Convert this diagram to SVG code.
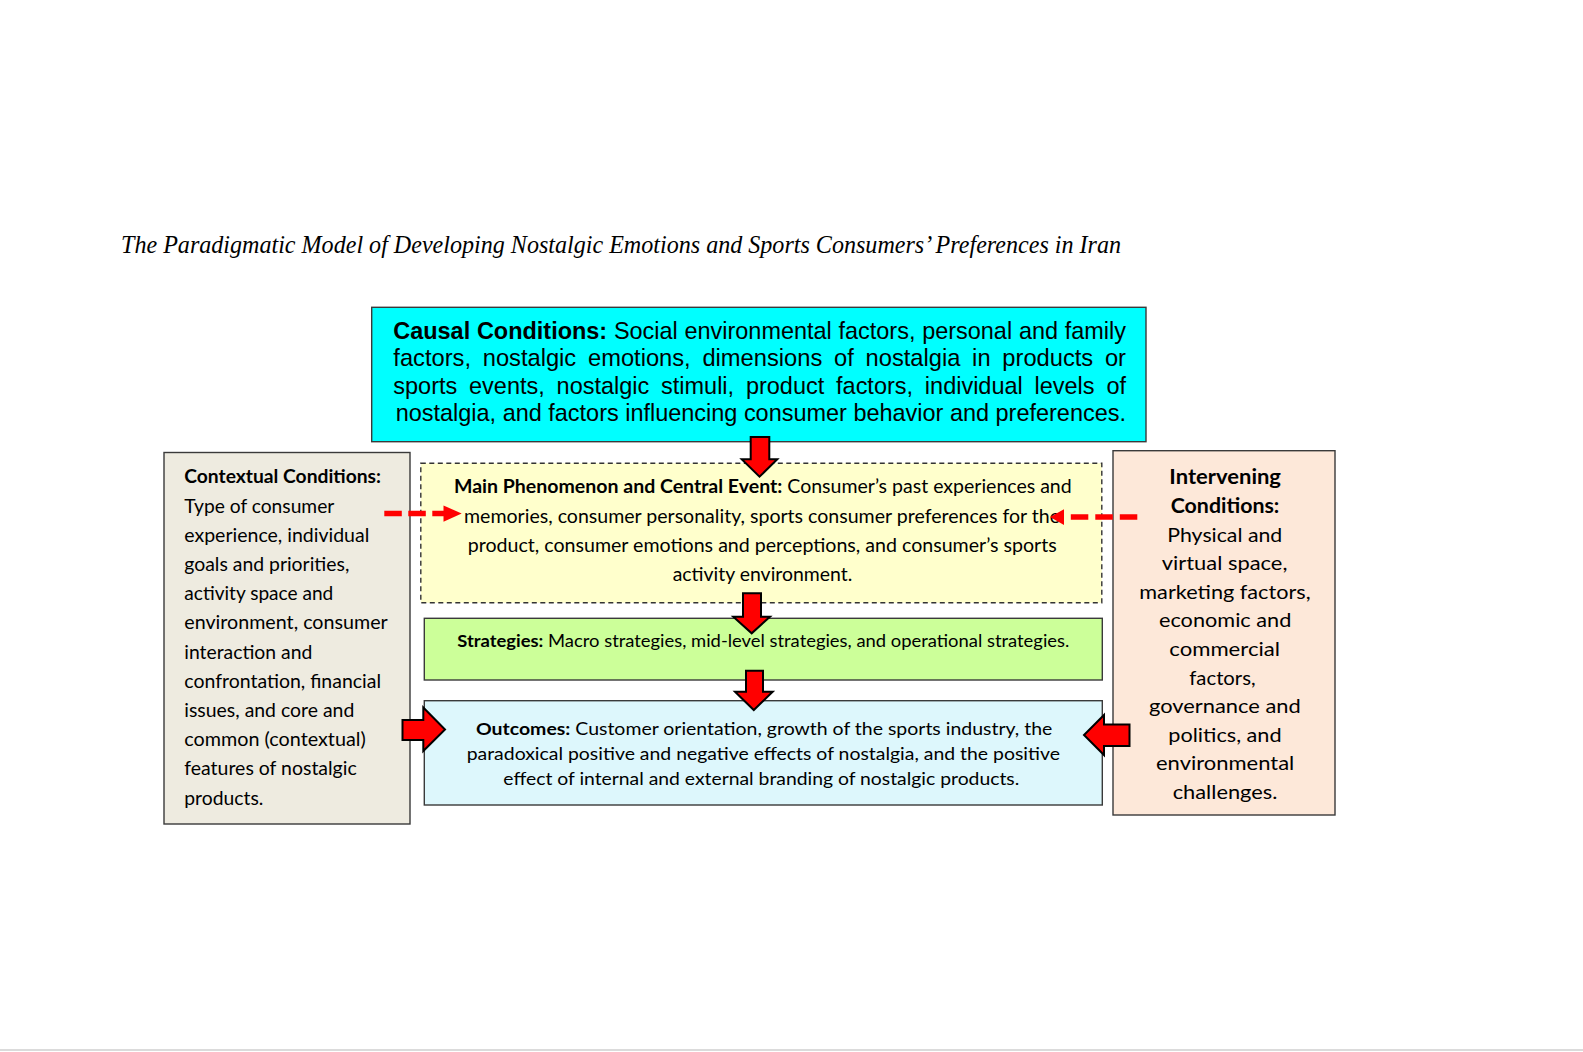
<svg xmlns="http://www.w3.org/2000/svg" width="1583" height="1052" viewBox="0 0 1583 1052">
<defs>
<style>
.box{stroke:#3a3a3a;stroke-width:1.4}
.ar{font-family:"Liberation Sans",Arial,sans-serif;font-size:24.2px;fill:#000}
.cal{font-family:Lato,"Open Sans",sans-serif;fill:#000}
.c19{font-size:19px}
.c195{font-size:19.5px}
.c20{font-size:20px}
.c17{font-size:16.8px}
.b{font-weight:bold}
.blk{fill:#ff0000;stroke:#000;stroke-width:2;stroke-linejoin:miter}
.dash{stroke:#ff0000;stroke-width:5.5;fill:none}
.head{fill:#ff0000}
</style>
</defs>
<rect x="0" y="0" width="1583" height="1052" fill="#ffffff"/>
<line x1="0" y1="1050" x2="1583" y2="1050" stroke="#cfcfcf" stroke-width="1.5"/>
<text id="title" x="121" y="253" textLength="1000" lengthAdjust="spacingAndGlyphs" font-family="'Liberation Serif','Times New Roman',serif" font-style="italic" font-size="25" fill="#000">The Paradigmatic Model of Developing Nostalgic Emotions and Sports Consumers’ Preferences in Iran</text>

<g id="causal">
<rect class="box" x="371.7" y="307.3" width="774.3" height="134.4" fill="#00ffff"/>
<text class="ar" x="393.3" y="339" textLength="732.7" lengthAdjust="spacingAndGlyphs" word-spacing="0.3"><tspan class="b">Causal Conditions:</tspan> Social environmental factors, personal and family</text>
<text class="ar" x="393.3" y="366" textLength="732.7" lengthAdjust="spacingAndGlyphs" word-spacing="5.3">factors, nostalgic emotions, dimensions of nostalgia in products or</text>
<text class="ar" x="393.3" y="393.5" textLength="732.7" lengthAdjust="spacingAndGlyphs" word-spacing="5.5">sports events, nostalgic stimuli, product factors, individual levels of</text>
<text class="ar" x="395.7" y="421" textLength="730.3" lengthAdjust="spacingAndGlyphs">nostalgia, and factors influencing consumer behavior and preferences.</text>
</g>

<g id="contextual">
<rect class="box" x="164" y="452.5" width="246" height="371.5" fill="#eeebe0"/>
<text class="cal c19 b" x="184.3" y="483.3" textLength="196.7" lengthAdjust="spacingAndGlyphs">Contextual Conditions:</text>
<text class="cal c19" x="184.3" y="512.5" textLength="150" lengthAdjust="spacingAndGlyphs">Type of consumer</text>
<text class="cal c19" x="184.3" y="541.7" textLength="185" lengthAdjust="spacingAndGlyphs">experience, individual</text>
<text class="cal c19" x="184.3" y="570.9" textLength="165" lengthAdjust="spacingAndGlyphs">goals and priorities,</text>
<text class="cal c19" x="184.3" y="600.1" textLength="149" lengthAdjust="spacingAndGlyphs">activity space and</text>
<text class="cal c19" x="184.3" y="629.3" textLength="203.4" lengthAdjust="spacingAndGlyphs">environment, consumer</text>
<text class="cal c19" x="184.3" y="658.5" textLength="128" lengthAdjust="spacingAndGlyphs">interaction and</text>
<text class="cal c19" x="184.3" y="687.7" textLength="196.7" lengthAdjust="spacingAndGlyphs">confrontation, financial</text>
<text class="cal c19" x="184.3" y="716.9" textLength="170" lengthAdjust="spacingAndGlyphs">issues, and core and</text>
<text class="cal c19" x="184.3" y="746.1" textLength="181.4" lengthAdjust="spacingAndGlyphs">common (contextual)</text>
<text class="cal c19" x="184.3" y="775.3" textLength="172.4" lengthAdjust="spacingAndGlyphs">features of nostalgic</text>
<text class="cal c19" x="184.3" y="804.5" textLength="79" lengthAdjust="spacingAndGlyphs">products.</text>
</g>

<g id="phenomenon">
<rect x="420.8" y="463.3" width="681" height="139.5" fill="#ffffcc" stroke="#333" stroke-width="1.4" stroke-dasharray="5,3.5"/>
<text class="cal c195" x="454" y="493" textLength="617.7" lengthAdjust="spacingAndGlyphs"><tspan class="b">Main Phenomenon and Central Event:</tspan> Consumer’s past experiences and</text>
<text class="cal c195" x="464" y="522.5" textLength="596" lengthAdjust="spacingAndGlyphs">memories, consumer personality, sports consumer preferences for the</text>
<text class="cal c195" x="467.7" y="551.5" textLength="589" lengthAdjust="spacingAndGlyphs">product, consumer emotions and perceptions, and consumer’s sports</text>
<text class="cal c195" x="672.7" y="580.5" textLength="179.6" lengthAdjust="spacingAndGlyphs">activity environment.</text>
</g>

<g id="strategies">
<rect class="box" x="424.3" y="618.3" width="678" height="61.7" fill="#ccff99"/>
<text class="cal c17" x="457.3" y="646.5" textLength="612" lengthAdjust="spacingAndGlyphs"><tspan class="b">Strategies:</tspan> Macro strategies, mid-level strategies, and operational strategies.</text>
</g>

<g id="outcomes">
<rect class="box" x="424.3" y="700.7" width="678" height="104.3" fill="#ddf7fc"/>
<text class="cal c17" x="476" y="734.5" textLength="576.3" lengthAdjust="spacingAndGlyphs"><tspan class="b">Outcomes:</tspan> Customer orientation, growth of the sports industry, the</text>
<text class="cal c17" x="466.7" y="759.7" textLength="593.3" lengthAdjust="spacingAndGlyphs">paradoxical positive and negative effects of nostalgia, and the positive</text>
<text class="cal c17" x="503.3" y="785" textLength="516" lengthAdjust="spacingAndGlyphs">effect of internal and external branding of nostalgic products.</text>
</g>

<g id="intervening">
<rect class="box" x="1113" y="450.7" width="222" height="364.3" fill="#fde8d9"/>
<text class="cal c20 b" x="1169.3" y="484.3" textLength="111.7" lengthAdjust="spacingAndGlyphs">Intervening</text>
<text class="cal c20 b" x="1170.7" y="512.9" textLength="108.7" lengthAdjust="spacingAndGlyphs">Conditions:</text>
<text class="cal c20" x="1167.3" y="541.5" textLength="115" lengthAdjust="spacingAndGlyphs">Physical and</text>
<text class="cal c20" x="1161.7" y="570.1" textLength="125.7" lengthAdjust="spacingAndGlyphs">virtual space,</text>
<text class="cal c20" x="1139.3" y="598.7" textLength="171.3" lengthAdjust="spacingAndGlyphs">marketing factors,</text>
<text class="cal c20" x="1159" y="627.3" textLength="132.3" lengthAdjust="spacingAndGlyphs">economic and</text>
<text class="cal c20" x="1169.3" y="655.9" textLength="110.7" lengthAdjust="spacingAndGlyphs">commercial</text>
<text class="cal c20" x="1189.3" y="684.5" textLength="66.3" lengthAdjust="spacingAndGlyphs">factors,</text>
<text class="cal c20" x="1149" y="713.1" textLength="151.7" lengthAdjust="spacingAndGlyphs">governance and</text>
<text class="cal c20" x="1168.3" y="741.7" textLength="113.3" lengthAdjust="spacingAndGlyphs">politics, and</text>
<text class="cal c20" x="1156" y="770.3" textLength="138.3" lengthAdjust="spacingAndGlyphs">environmental</text>
<text class="cal c20" x="1172.7" y="798.9" textLength="104.7" lengthAdjust="spacingAndGlyphs">challenges.</text>
</g>

<g id="connectors">
<polygon class="blk" points="750.7,437 769.3,437 769.3,459.3 777.3,459.3 759.5,476.7 741.7,459.3 750.7,459.3"/>
<polygon class="blk" points="743,593.3 761,593.3 761,616.7 770,616.7 751.7,633.3 733.3,616.7 743,616.7"/>
<polygon class="blk" points="746,670.7 763,670.7 763,691.7 772.7,691.7 753.8,710 735,691.7 746,691.7"/>
<polygon class="blk" points="402.5,720 423.3,720 423.3,707.5 445,729.5 423.3,751 423.3,740 402.5,740"/>
<polygon class="blk" points="1129.5,724.5 1104,724.5 1104,715 1084,735 1104,755 1104,746 1129.5,746"/>
<line class="dash" x1="384.3" y1="513.5" x2="445" y2="513.5" stroke-dasharray="17.5,6.5"/>
<polygon class="head" points="443.5,505.5 461.7,513.5 443.5,521.7"/>
<line class="dash" x1="1137.3" y1="517" x2="1062" y2="517" stroke-dasharray="17.5,7"/>
<polygon class="head" points="1064,509.3 1050,517 1064,525"/>
</g>
</svg>
